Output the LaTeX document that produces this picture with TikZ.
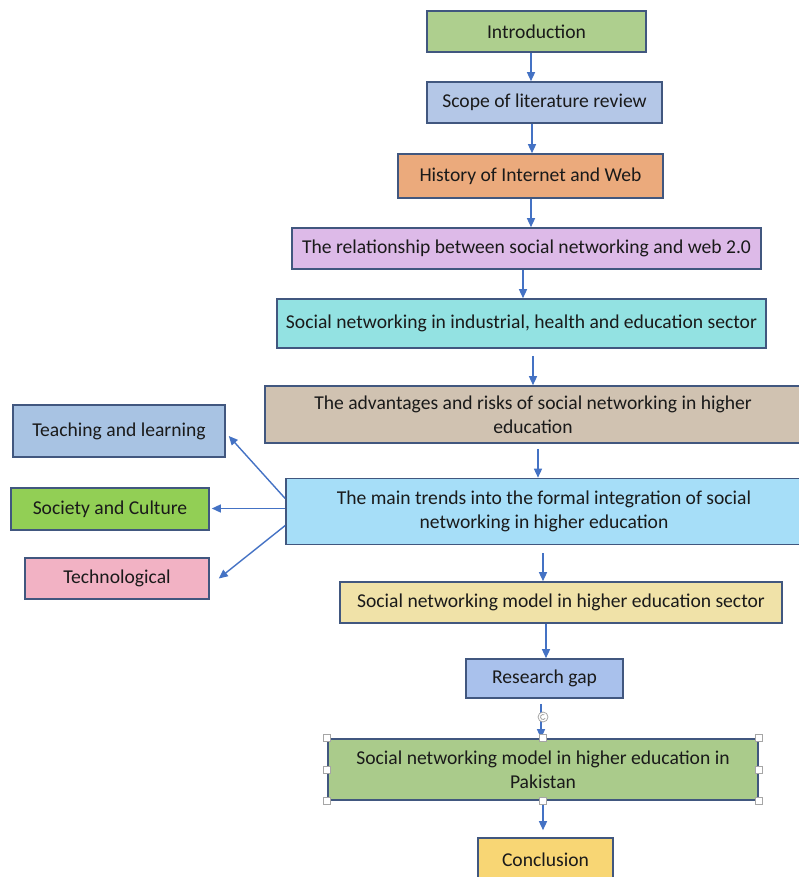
\documentclass[tikz,border=0pt]{standalone}
\usepackage{fontspec}
\setmainfont{Carlito}
\usetikzlibrary{arrows.meta}
\definecolor{edge}{HTML}{41577F}
\definecolor{arrowblue}{HTML}{4472C4}
\definecolor{txt}{HTML}{1A1A1A}
\definecolor{cIntro}{HTML}{AECF8E}
\definecolor{cScope}{HTML}{B4C7E7}
\definecolor{cHist}{HTML}{EBAA7C}
\definecolor{cRel}{HTML}{DDBAE8}
\definecolor{cInd}{HTML}{93E2E2}
\definecolor{cAdv}{HTML}{D0C2B1}
\definecolor{cMain}{HTML}{A6DEF8}
\definecolor{cTeach}{HTML}{A8C3E3}
\definecolor{cSoc}{HTML}{92CF55}
\definecolor{cTech}{HTML}{F2B2C4}
\definecolor{cModel}{HTML}{F0E2A8}
\definecolor{cGap}{HTML}{A9C1EC}
\definecolor{cPak}{HTML}{AACB8B}
\definecolor{cConc}{HTML}{F8D674}
\tikzset{
  box/.style={draw=edge, line width=1.6pt, inner sep=0pt, align=center,
    text=txt, font=\fontsize{19.6}{24}\selectfont},
  arr/.style={draw=arrowblue, line width=1.4pt,
    -{Triangle[width=8pt,length=9pt]}},
  handle/.style={draw=gray!70, fill=white, line width=0.7pt,
    minimum size=7pt, inner sep=0pt}
}
\begin{document}
\begin{tikzpicture}[x=1pt,y=-1pt]
\useasboundingbox (0,0) rectangle (799,877);
\begin{scope}
\clip (0,0) rectangle (799,877);
% main chain
\node[box, fill=cIntro, minimum width=219pt, minimum height=41pt] (intro) at (536.5,31.5) {Introduction};
\node[box, fill=cScope, minimum width=235pt, minimum height=41pt] (scope) at (544.5,102.5) {Scope of literature review};
\node[box, fill=cHist, minimum width=265pt, minimum height=44pt] (hist) at (530.5,176) {History of Internet and Web};
\node[box, fill=cRel, minimum width=469pt, minimum height=41pt] (rel) at (526.5,248.5) {The relationship between social networking and web 2.0};
\node[box, fill=cInd, minimum width=489pt, minimum height=49pt] (ind) at (521.5,323.5) {Social networking in industrial, health and education sector};
\node[box, fill=cAdv, minimum width=536pt, minimum height=57pt] (adv) at (533,414.5) {The advantages and risks of social networking in higher\\education};
\node[box, fill=cMain, minimum width=516pt, minimum height=66pt] (trend) at (544,511.5) {The main trends into the formal integration of social\\networking in higher education};
\node[box, fill=cModel, minimum width=442pt, minimum height=41pt] (model) at (561,602.5) {Social networking model in higher education sector};
\node[box, fill=cGap, minimum width=157pt, minimum height=39pt] (gap) at (544.5,678.5) {Research gap};
\node[box, fill=cPak, minimum width=430pt, minimum height=61pt] (pak) at (543,769.5) {Social networking model in higher education in\\Pakistan};
\node[box, fill=cConc, minimum width=135pt, minimum height=44pt] (conc) at (545.5,860) {Conclusion};
% side branches
\node[box, fill=cTeach, minimum width=212pt, minimum height=52pt] (teach) at (119,431) {Teaching and learning};
\node[box, fill=cSoc, minimum width=198pt, minimum height=42pt] (soc) at (110,509) {Society and Culture};
\node[box, fill=cTech, minimum width=184pt, minimum height=41pt] (tech) at (117,578.5) {Technological};

% vertical connectors
\draw[arr] (intro.south -| 531,0) -- (scope.north -| 531,0);
\draw[arr] (scope.south -| 532,0) -- (hist.north -| 532,0);
\draw[arr] (hist.south -| 531,0) -- (rel.north -| 531,0);
\draw[arr] (rel.south -| 523,0) -- (ind.north -| 523,0);
\draw[arr] ([yshift=-7pt]ind.south -| 533,0) -- (adv.north -| 533,0);
\draw[arr] ([yshift=-5pt]adv.south -| 538,0) -- (trend.north -| 538,0);
\draw[arr] ([yshift=-8pt]trend.south -| 543,0) -- (model.north -| 543,0);
\draw[arr] (model.south -| 546,0) -- (gap.north -| 546,0);
\draw[arr] ([yshift=-5pt]gap.south -| 541,0) -- (pak.north -| 541,0);
\draw[arr] (pak.south -| 543,0) -- ([yshift=7pt]conc.north -| 543,0);

% branch connectors
\coordinate (b1) at ([yshift=13pt]trend.west);
\coordinate (b2) at ([yshift=3pt]trend.west);
\coordinate (b3) at ([yshift=-14pt]trend.west);
\draw[arr] (b1) -- ([xshift=3pt,yshift=-5pt]teach.east);
\draw[arr] (b2) -- ([xshift=2pt]soc.east |- b2);
\draw[arr] (b3) -- ([xshift=9pt]tech.east);

% selection handles on the Pakistan box
\foreach \a in {north west,north,north east,west,east,south west,south,south east}
  \node[handle] at (pak.\a) {};
\node[draw=gray!70, fill=white, circle, line width=0.8pt, minimum size=10pt, inner sep=0pt] (rot) at (543,717) {};
\draw[gray!80, line width=0.7pt] (rot.center) ++(60:2.5pt) arc (60:330:2.5pt);
\end{scope}
\end{tikzpicture}
\end{document}
